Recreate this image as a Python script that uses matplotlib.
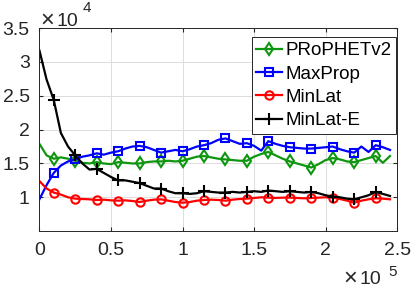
import numpy as np
import matplotlib.pyplot as plt

plt.rcParams['font.family'] = ['Liberation Sans', 'DejaVu Sans']

# x axis: one sample every 5000
x = np.arange(0, 250000, 5000)

# values in units of 1e4
prophet = [1.79, 1.62, 1.57, 1.59, 1.57, 1.54, 1.51, 1.50, 1.52, 1.50,
           1.49, 1.52, 1.51, 1.50, 1.50, 1.52, 1.53, 1.53, 1.54, 1.53,
           1.54, 1.57, 1.60, 1.61, 1.59, 1.57, 1.56, 1.55, 1.54, 1.54,
           1.60, 1.64, 1.67, 1.62, 1.57, 1.53, 1.50, 1.47, 1.44, 1.49,
           1.55, 1.58, 1.56, 1.53, 1.52, 1.55, 1.58, 1.61, 1.51, 1.61]
maxprop = [0.97, 1.18, 1.36, 1.47, 1.53, 1.56, 1.60, 1.62, 1.65, 1.63,
           1.66, 1.68, 1.72, 1.75, 1.76, 1.74, 1.70, 1.66, 1.68, 1.70,
           1.68, 1.71, 1.75, 1.77, 1.80, 1.85, 1.87, 1.83, 1.79, 1.80,
           1.76, 1.69, 1.83, 1.79, 1.76, 1.74, 1.73, 1.72, 1.72, 1.73,
           1.74, 1.75, 1.71, 1.68, 1.66, 1.75, 1.67, 1.77, 1.74, 1.70]
minlat = [1.24, 1.13, 1.07, 1.04, 1.00, 0.98, 0.975, 0.97, 0.96, 0.965,
          0.955, 0.95, 0.955, 0.945, 0.93, 0.95, 0.965, 0.97, 0.95, 0.93,
          0.92, 0.93, 0.95, 0.96, 0.965, 0.96, 0.95, 0.965, 0.975, 0.98,
          0.99, 1.00, 0.995, 0.99, 0.995, 0.995, 0.99, 0.985, 0.99, 0.995,
          1.00, 0.995, 0.975, 0.95, 0.92, 0.95, 0.97, 0.985, 0.98, 0.97]
minlat_e = [3.17, 2.74, 2.44, 1.95, 1.75, 1.62, 1.50, 1.41, 1.42, 1.36,
            1.30, 1.25, 1.25, 1.23, 1.21, 1.17, 1.13, 1.13, 1.09, 1.06,
            1.06, 1.05, 1.06, 1.09, 1.08, 1.07, 1.07, 1.08, 1.07, 1.08,
            1.09, 1.08, 1.10, 1.09, 1.08, 1.09, 1.08, 1.07, 1.08, 1.06,
            1.03, 1.01, 1.00, 0.98, 0.97, 1.00, 1.03, 1.08, 1.05, 1.02]

series = [
    ('PRoPHETv2', prophet, '#0f960f', 'd'),
    ('MaxProp', maxprop, '#0000ff', 's'),
    ('MinLat', minlat, '#ff0000', 'o'),
    ('MinLat-E', minlat_e, '#000000', '+'),
]

fig = plt.figure(figsize=(4.15, 2.9), dpi=100)
ax = fig.add_axes([0.095, 0.203, 0.862, 0.70])

for name, vals, color, mk in series:
    ax.plot(x, np.array(vals) * 1e4, color=color, lw=1.6, marker=mk,
            markevery=(2, 3), markersize=6 if mk != '+' else 9,
            markerfacecolor='none', markeredgewidth=1.5, label=name)

ax.set_xlim(0, 250000)
ax.set_ylim(5000, 35000)
ax.set_xticks(np.arange(0, 250001, 50000))
ax.set_yticks(np.arange(10000, 35001, 5000))
ax.set_xticklabels(['0', '0.5', '1', '1.5', '2', '2.5'])
ax.set_yticklabels(['1', '1.5', '2', '2.5', '3', '3.5'])
ax.tick_params(labelsize=14, direction='in', length=3, color='#262626',
               labelcolor='#262626', top=True, right=True)
ax.tick_params(axis='x', pad=8)
ax.tick_params(axis='y', pad=7)
ax.grid(True, color='#dcdcdc', lw=0.7)
ax.set_axisbelow(True)
for sp in ax.spines.values():
    sp.set_color('#262626')
    sp.set_linewidth(0.7)


# MATLAB-style exponent labels, positions in figure pixels
def px_text(px, py, s, size):
    fig.text(px / 415, 1 - py / 290, s, fontsize=size, color='#262626',
             ha='left', va='baseline')


px_text(40, 26.5, '\u00d7', 17)
px_text(56, 26.5, '10', 14)
px_text(83, 12.5, '4', 11)
px_text(343, 284.5, '\u00d7', 17)
px_text(359, 284.5, '10', 14)
px_text(388, 276.5, '5', 11)

leg = ax.legend(loc='upper right', bbox_to_anchor=(0.997, 0.954),
                borderaxespad=0, fontsize=13.5, handlelength=1.4,
                handletextpad=0.15, labelspacing=0.33, borderpad=0.25,
                fancybox=False, framealpha=1)
leg.get_frame().set_edgecolor('#262626')
leg.get_frame().set_linewidth(0.7)

fig.savefig('out.png', dpi=100)
